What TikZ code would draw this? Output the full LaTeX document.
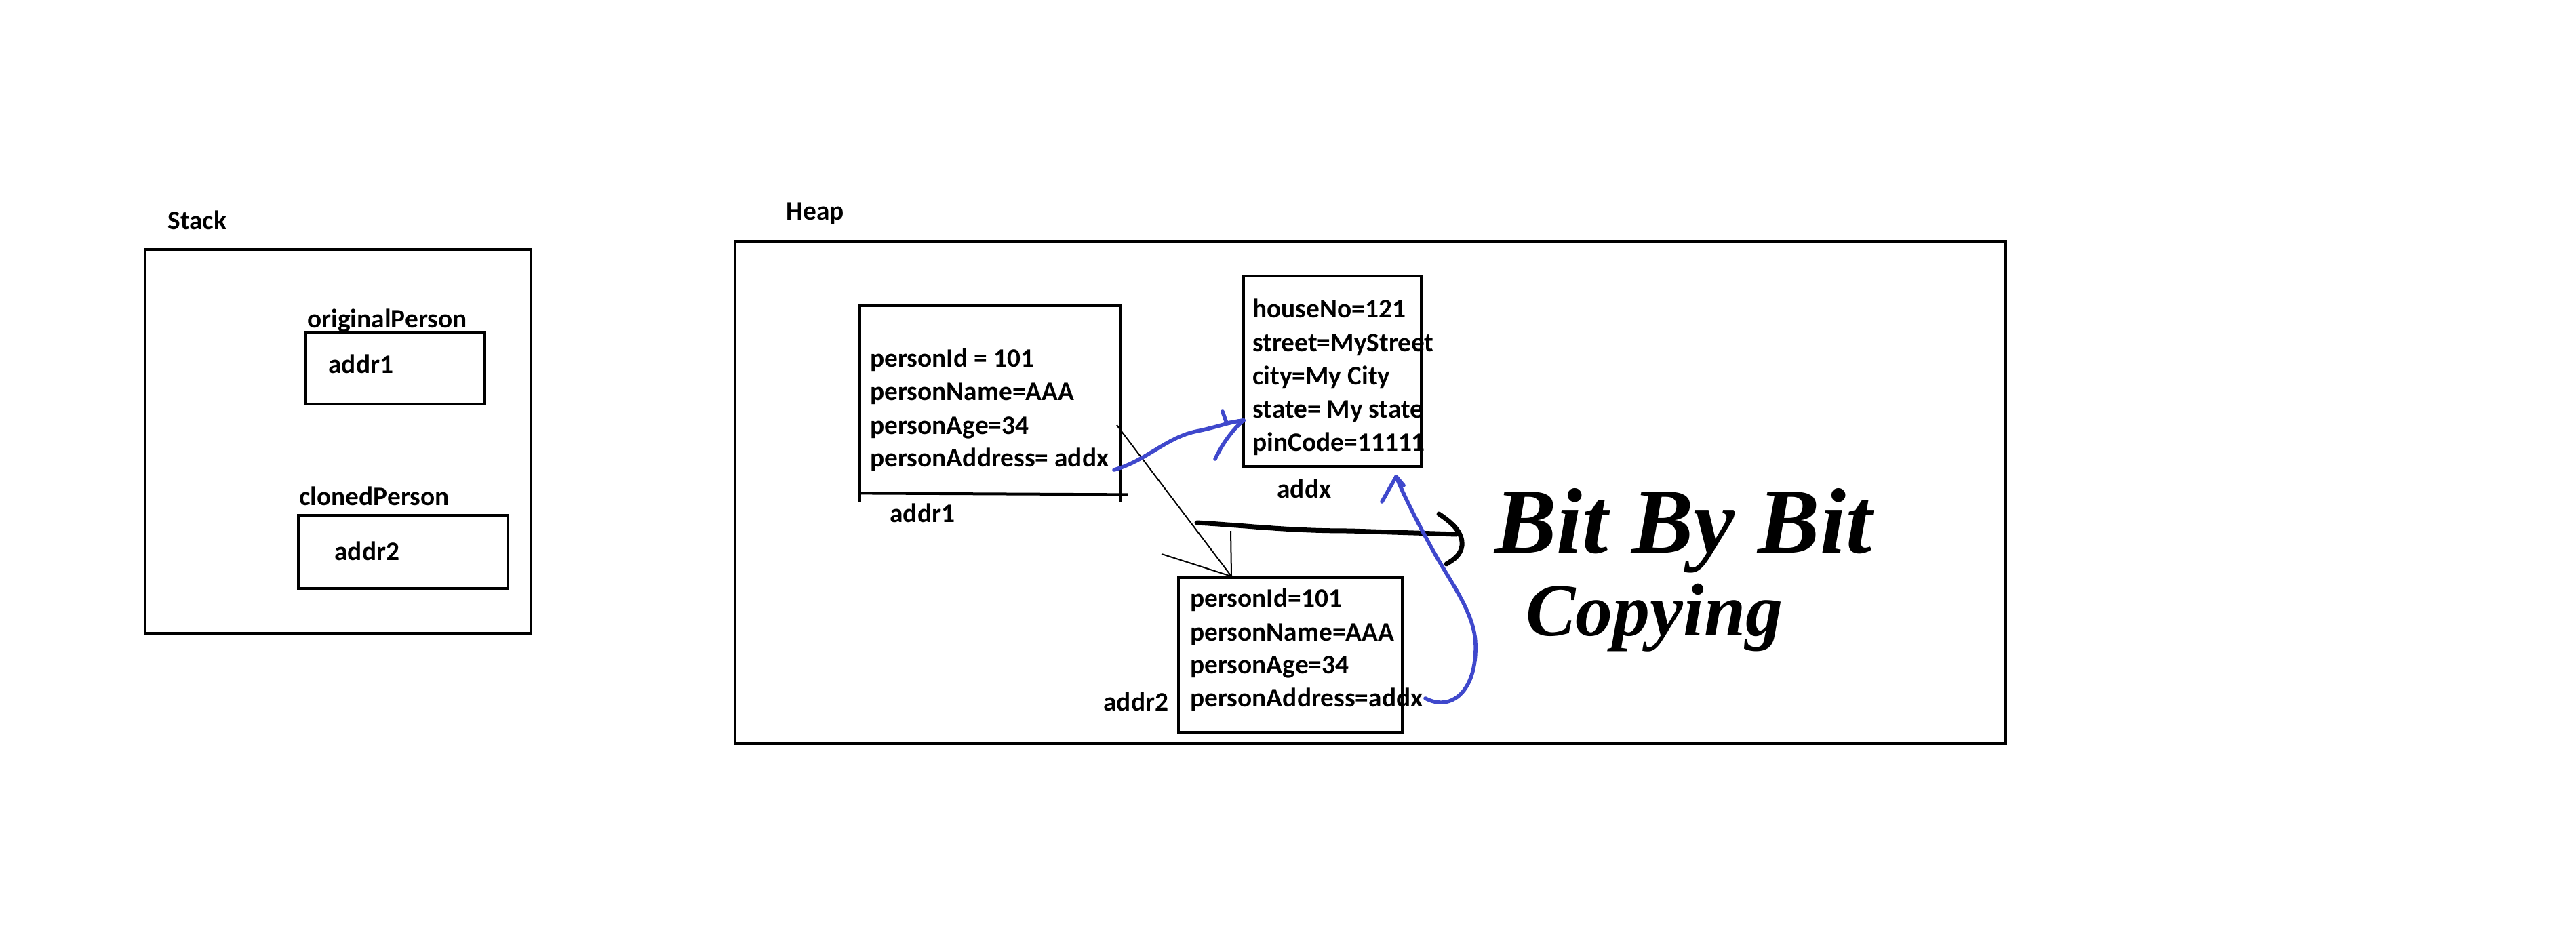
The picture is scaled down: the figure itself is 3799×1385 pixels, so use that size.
\documentclass[tikz,border=0pt]{standalone}
\usepackage{fontspec}
\setmainfont{Carlito}
\newfontfamily\handfont{Liberation Serif}
\usetikzlibrary{fit}
\definecolor{penblue}{RGB}{63,72,204}
\begin{document}
\begin{tikzpicture}[x=0.5pt,y=-0.5pt,
  lbl/.style={inner sep=0pt, anchor=base west, font=\fontsize{19.7}{24}\selectfont\bfseries},
  frame/.style={draw, line width=2pt, inner sep=0pt},
  boxline/.style={line width=2pt},
  thinline/.style={line width=1pt},
  pen/.style={line width=3.5pt, line cap=round, line join=round},
  bluepen/.style={draw=penblue, line width=2.8pt, line cap=round, line join=round},
  hand/.style={inner sep=0pt, anchor=base west, font=\handfont\bfseries\itshape}]

\useasboundingbox[fill=white] (0,0) rectangle (3799,1385);

% ---------- Stack ----------
\node[lbl] (stacklbl) at (247,339) {Stack};
\node[frame, fit={(214,368) (783,934)}] (stack) {};
\node[lbl] (origlbl) at (453,483) {originalPerson};
\node[frame, fit={(451,490) (715,596)}] (s1) {};
\node[lbl] (s1txt) at (484,550) {addr1};
\node[lbl] (clonlbl) at (441,745) {clonedPerson};
\node[frame, fit={(440,760) (749,868)}] (s2) {};
\node[lbl] (s2txt) at (493,826) {addr2};

% ---------- Heap ----------
\node[lbl] (heaplbl) at (1159,325) {Heap};
\node[frame, fit={(1084,356) (2958,1097)}] (heap) {};

% person 1 (open box with separate bottom stroke)
\node[inner sep=0pt, fit={(1268,451) (1652,727)}] (p1) {};
\draw[boxline] ([yshift=-6.5pt]p1.south west) |- (p1.north east) -- ([yshift=-6.5pt]p1.south east);
\draw[boxline] (p1.south west) -- ([xshift=5.5pt,yshift=-1pt]p1.south east);
\node[lbl] (p1a) at (1283,541) {personId = 101};
\node[lbl] (p1b) at (1283,590) {personName=AAA};
\node[lbl] (p1c) at (1283,640) {personAge=34};
\node[lbl] (p1d) at (1283,688) {personAddress= addx};
\node[lbl] (p1lbl) at (1312,770) {addr1};

% address object
\node[frame, fit={(1834,407) (2096,688)}] (addr) {};
\node[lbl] (a1) at (1847,468) {houseNo=121};
\node[lbl] (a2) at (1847,518) {street=MyStreet};
\node[lbl] (a3) at (1847,567) {city=My City};
\node[lbl] (a4) at (1847,616) {state= My state};
\node[lbl] (a5) at (1847,665) {pinCode=11111};
\node[lbl] (addxlbl) at (1883,734) {addx};

% person 2
\node[frame, fit={(1738,852) (2068,1080)}] (p2) {};
\node[lbl] (p2a) at (1755,895) {personId=101};
\node[lbl] (p2b) at (1755,945) {personName=AAA};
\node[lbl] (p2c) at (1755,993) {personAge=34};
\node[lbl] (p2d) at (1755,1042) {personAddress=addx};
\node[lbl] (p2lbl) at (1627,1048) {addr2};

% ---------- thin copy arrow p1 -> p2 ----------
\coordinate (c1s) at (1647,627);
\coordinate (c1t) at (1816,850);
\draw[thinline] (c1s) -- (c1t);
\draw[thinline] (c1t) -- ++(-103,-33);
\draw[thinline] (c1t) -- ++(-1,-67);

% ---------- handwriting ----------
\node[hand, font=\handfont\bfseries\itshape\fontsize{68.5}{70}\selectfont] (bbb) at (2204,815) {Bit By Bit};
\node[hand, font=\handfont\bfseries\itshape\fontsize{55}{58}\selectfont] (cpy) at (2250,937) {Copying};

% thick hand-drawn arrow towards the text
\coordinate (ta) at (1765,771);
\coordinate (tb) at (2148,788);
\draw[pen] (ta) .. controls (1850,776) and (1900,783) .. (1990,783) -- (tb);
\draw[pen] (2122,758) .. controls (2140,770) and (2158,785) .. (2156,805) .. controls (2154,818) and (2145,825) .. (2133,832);

% ---------- blue reference arrows ----------
\coordinate (b1s) at (1643,693);
\coordinate (b1t) at (1834,620);
\draw[bluepen] (b1s) .. controls (1690,680) and (1720,645) .. (1765,636) .. controls (1795,630) and (1815,622) .. (b1t);
\draw[bluepen] (1803,607) -- (1809,624) -- (b1t);
\draw[bluepen] (1792,677) .. controls (1805,650) and (1820,632) .. (b1t);

\coordinate (b2s) at (2102,1030);
\coordinate (b2t) at (2059,703);
\draw[bluepen] (b2s) .. controls (2140,1050) and (2178,1020) .. (2176,950) .. controls (2175,905) and (2140,860) .. (2115,815) .. controls (2090,770) and (2070,730) .. (b2t);
\draw[bluepen] (b2t) -- ++(-21,37);
\draw[bluepen] (b2t) -- ++(11,13);

\end{tikzpicture}
\end{document}
